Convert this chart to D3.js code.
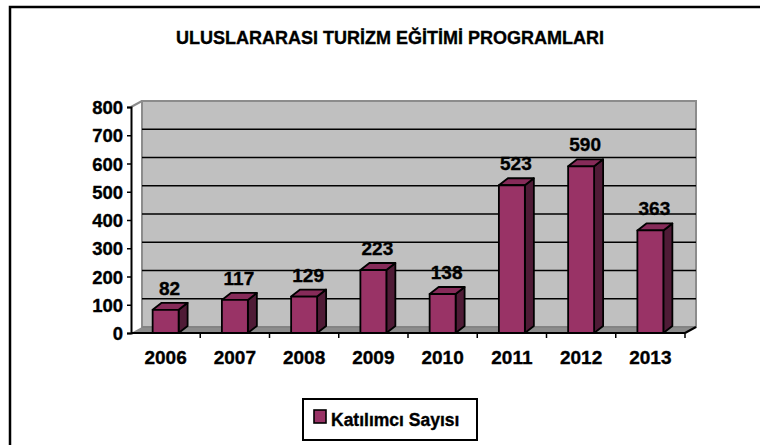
<!DOCTYPE html>
<meta charset="utf-8">
<style>
body { margin: 0; background: #fff; }
text { font-family: "Liberation Sans", Arial, sans-serif; font-weight: bold; fill: #000; stroke: #000; stroke-width: 0.35px; }
</style>

<svg width="760" height="445"></svg>

<script src="https://d3js.org/d3.v7.min.js"></script>
<script>

var years = ["2006", "2007", "2008", "2009", "2010", "2011", "2012", "2013"];
var katilimci = [82, 117, 129, 223, 138, 523, 590, 363];
var yTicks = [0, 100, 200, 300, 400, 500, 600, 700, 800];
var baslik = "ULUSLARARASI TURİZM EĞİTİMİ PROGRAMLARI";
var seriAdi = "Katılımcı Sayısı";

var svg = d3.select("svg");

// 3d kaydirmalar
var wall = {dx: 11, dy: -6},
    depth = {dx: 9, dy: -7};

var x = d3.scaleBand().domain(years).range([131, 685])
    .paddingInner(0.625).paddingOuter(0.3125);
var y = d3.scaleLinear().domain([0, 800]).range([333, 107]);

// cerceve
svg.append("rect")
    .attr("x", 10).attr("y", 7).attr("width", 780).attr("height", 460)
    .attr("fill", "#fff").attr("stroke", "#000").attr("stroke-width", 2.5);

svg.append("text")
    .attr("x", 390).attr("y", 44)
    .attr("text-anchor", "middle")
    .style("font-size", "18px")
    .text(baslik);

var x0 = x.range()[0], x1 = x.range()[1];

// arka duvar
svg.append("rect")
    .attr("x", x0 + wall.dx).attr("y", y(800) + wall.dy)
    .attr("width", x1 - x0).attr("height", y(0) - y(800))
    .attr("fill", "#c0c0c0").attr("stroke", "#8c8c8c").attr("stroke-width", 2);

// zemin
svg.append("path")
    .attr("d", d3.line()([[x0, y(0)], [x1, y(0)], [x1 + wall.dx, y(0) + wall.dy], [x0 + wall.dx, y(0) + wall.dy]]))
    .attr("fill", "#8c8c8c").attr("stroke", "#7a7a7a").attr("stroke-width", 1);

// sol duvar kenari
svg.append("path")
    .attr("d", d3.line()([[x0, y(800)], [x0 + wall.dx, y(800) + wall.dy]]))
    .attr("stroke", "#8c8c8c").attr("stroke-width", 2).attr("fill", "none");

// izgara
svg.append("g")
  .selectAll("line")
  .data(yTicks.filter(d => d > 0 && d < 800))
  .enter().append("line")
    .attr("x1", x0 + wall.dx).attr("x2", x1 + wall.dx)
    .attr("y1", d => y(d) + wall.dy).attr("y2", d => y(d) + wall.dy)
    .attr("stroke", "#000").attr("stroke-width", 1.6);

// y ekseni
var yAxis = svg.append("g")
    .attr("transform", "translate(" + x0 + ",0)")
    .call(d3.axisLeft(y).tickValues(yTicks).tickSize(4).tickPadding(4));
yAxis.select(".domain").attr("stroke", "#000").attr("stroke-width", 2);
yAxis.selectAll(".tick line").attr("stroke", "#000").attr("stroke-width", 1.5);
yAxis.selectAll("text").style("font-size", "18.5px").attr("font-family", null).attr("dy", "0.36em");

// x ekseni
var sinirlar = years.map((d, i) => x0 + x.step() * (i + 1));
var xAxis = svg.append("g");
xAxis.append("line")
    .attr("x1", x0).attr("x2", x1).attr("y1", y(0)).attr("y2", y(0))
    .attr("stroke", "#000").attr("stroke-width", 2);
xAxis.selectAll(".tik")
  .data(sinirlar)
  .enter().append("line")
    .attr("x1", d => d).attr("x2", d => d)
    .attr("y1", y(0)).attr("y2", y(0) + 5)
    .attr("stroke", "#000").attr("stroke-width", 1.5);
xAxis.append("path")
    .attr("d", d3.line()([[x1, y(0)], [x1 + wall.dx, y(0) + wall.dy]]))
    .attr("stroke", "#000").attr("stroke-width", 2);
xAxis.selectAll("text")
  .data(years)
  .enter().append("text")
    .attr("x", d => x(d) + x.bandwidth() / 2)
    .attr("y", 363.5)
    .attr("text-anchor", "middle")
    .style("font-size", "19px")
    .text(d => d);

// cubuklar
var veri = years.map((d, i) => ({yil: d, deger: katilimci[i]}));
var bars = svg.append("g").selectAll("g")
    .data(veri)
    .enter().append("g")
    .attr("stroke", "#000").attr("stroke-width", 1.8).attr("stroke-linejoin", "round");

bars.append("path") // yan yuz
    .attr("fill", "#4f1b36")
    .attr("d", d => {
      var r = x(d.yil) + x.bandwidth(), t = y(d.deger), b = y(0);
      return d3.line()([[r, t], [r + depth.dx, t + depth.dy], [r + depth.dx, b + depth.dy], [r, b]]) + "Z";
    });
bars.append("path") // ust yuz
    .attr("fill", "#862b59")
    .attr("d", d => {
      var l = x(d.yil), r = l + x.bandwidth(), t = y(d.deger);
      return d3.line()([[l, t], [l + depth.dx, t + depth.dy], [r + depth.dx, t + depth.dy], [r, t]]) + "Z";
    });
bars.append("rect") // on yuz
    .attr("fill", "#993366")
    .attr("x", d => x(d.yil))
    .attr("y", d => y(d.deger))
    .attr("width", x.bandwidth())
    .attr("height", d => y(0) - y(d.deger));

// deger etiketleri
svg.append("g").selectAll("text")
    .data(veri)
    .enter().append("text")
    .attr("x", d => x(d.yil) + x.bandwidth() / 2 + 4)
    .attr("y", d => y(d.deger) - 15)
    .attr("text-anchor", "middle")
    .style("font-size", "19px")
    .text(d => d.deger);

// lejant
var lej = svg.append("g");
lej.append("rect")
    .attr("x", 303).attr("y", 399).attr("width", 174).attr("height", 41)
    .attr("fill", "#fff").attr("stroke", "#000").attr("stroke-width", 2);
lej.append("rect")
    .attr("x", 314).attr("y", 410).attr("width", 12).attr("height", 13)
    .attr("fill", "#993366").attr("stroke", "#000").attr("stroke-width", 1.6);
lej.append("text")
    .attr("x", 331).attr("y", 425.5)
    .style("font-size", "17.5px")
    .text(seriAdi);

</script>
